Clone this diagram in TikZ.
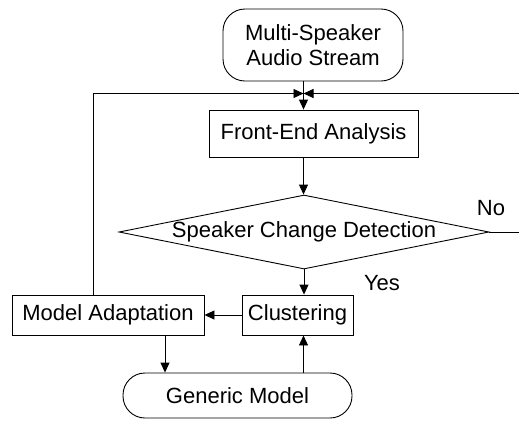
\documentclass[tikz,border=0pt]{standalone}
\usepackage{fontspec}
\setmainfont{Liberation Sans}
\usetikzlibrary{shapes.geometric,arrows.meta}
\tikzset{
	box/.style={draw, rectangle, inner sep=0pt, minimum height=20pt},
	term/.style={draw, rectangle, rounded corners=11pt, inner sep=0pt},
	flow/.style={-{Triangle[length=5pt,width=4.5pt]}},
}
\begin{document}
\begin{tikzpicture}[x=0.5pt, y=-0.5pt, line width=0.45pt, font=\fontsize{11}{12.5}\selectfont]
				\useasboundingbox (0,0) rectangle (519,420);
				% blocks
				\node[term, minimum width=90pt, minimum height=36pt, align=center] (start) at(313, 45){Multi-Speaker\\Audio Stream};
				\node[box, minimum width=104.5pt, minimum height=23.5pt] (fe) at(313.5, 133.5){Front-End Analysis};
				\node[draw, diamond, aspect=5, inner sep=0pt, minimum width=185pt, minimum height=37pt] (dec) at(304, 232){Speaker Change Detection};
				\node[box, minimum width=55.5pt] (clus) at(297.5, 315){Clustering};
				\node[box, minimum width=96pt] (adapt) at(108, 315){Model Adaptation};
				\node[term, minimum width=114.5pt, minimum height=22.5pt] (gen) at(237.5, 395.5){Generic Model};
				% labels
				\node (no) at(491, 208){No};
				\node (yes) at(382, 283){Yes};
				% junction and loop ends
				\coordinate (junc) at(303.5, 93.5);
				\coordinate (lft) at(93, 93.5);
				\coordinate (rgt) at(519, 93.5);
				% connectors
				\draw[flow] (start.south -| junc) -- (fe.north -| junc);
				\draw[flow] (adapt.north -| lft) -- (lft) -- (junc);
				\draw[flow] (rgt) -- (junc);
				\draw[flow] (fe.south -| junc) -- (dec.north -| junc);
				\draw (dec.east) -- (dec.east -| rgt);
				\draw[flow] (dec.south) -- (clus.north -| dec.south);
				\draw[flow] (clus.west) -- (adapt.east);
				\draw[flow] ([xshift=28.5pt]adapt.south) -- ([xshift=28.5pt]adapt.south |- gen.north);
				\draw[flow] (gen.north -| junc) -- (clus.south -| junc);
			\end{tikzpicture}
\end{document}
